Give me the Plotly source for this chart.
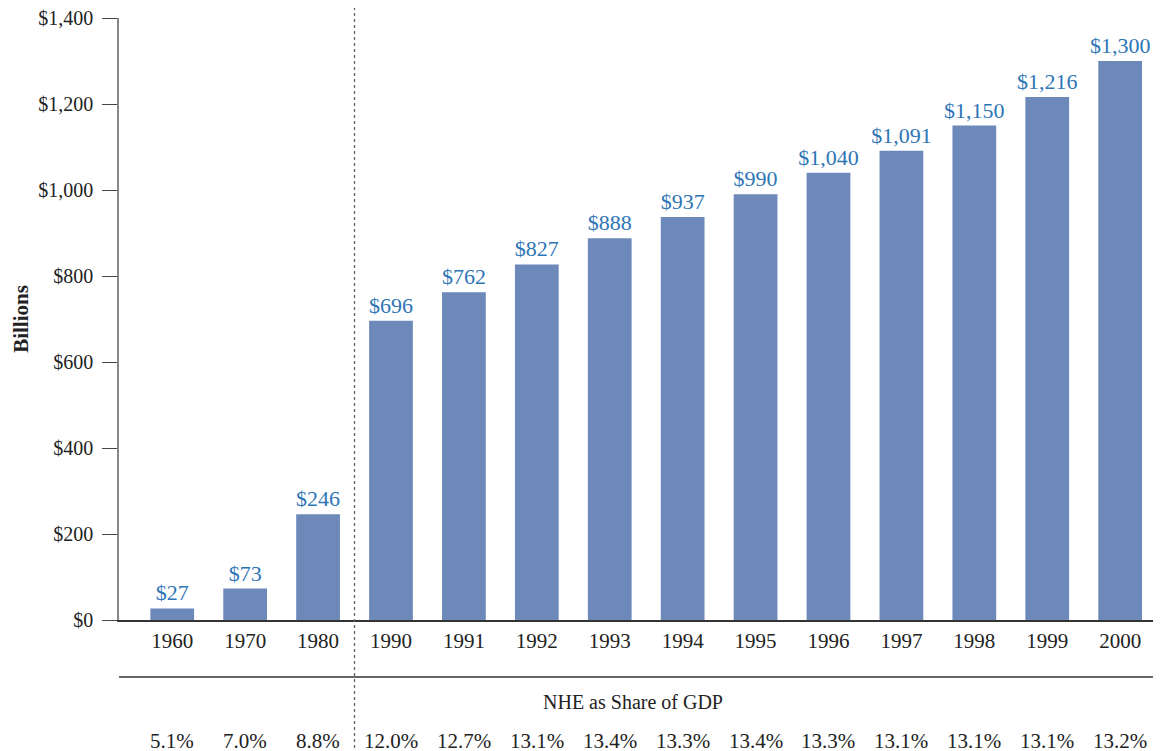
import plotly.graph_objects as go

years = ["1960", "1970", "1980", "1990", "1991", "1992", "1993", "1994",
         "1995", "1996", "1997", "1998", "1999", "2000"]
spending = [27, 73, 246, 696, 762, 827, 888, 937, 990, 1040, 1091, 1150, 1216, 1300]
gdp_share = ["5.1%", "7.0%", "8.8%", "12.0%", "12.7%", "13.1%", "13.4%", "13.3%",
             "13.4%", "13.3%", "13.1%", "13.1%", "13.1%", "13.2%"]
y_ticks = [0, 200, 400, 600, 800, 1000, 1200, 1400]

FONT = "Liberation Serif"
BAR = "#6d89ba"
LABEL = "#2e75b6"

# page has an 8px body margin; plot area on page: x 119..1161, y 18..620
H_PLOT = 602.0


def py(pix):
    # page pixel row -> paper y coordinate
    return (620 - pix) / H_PLOT


fig = go.Figure()

fig.add_trace(go.Bar(
    x=list(range(len(years))),
    y=spending,
    width=0.6,
    marker=dict(color=BAR, line=dict(width=0)),
    text=[f"${v:,}" for v in spending],
    textposition="outside",
    textangle=0,
    constraintext="none",
    textfont=dict(family=FONT, size=22, color=LABEL),
    cliponaxis=False,
    hoverinfo="skip",
))

# NHE share row
for i, s in enumerate(gdp_share):
    fig.add_annotation(x=i, y=py(741), xref="x", yref="paper", text=s,
                       xanchor="center", yanchor="middle", showarrow=False,
                       font=dict(family=FONT, size=21, color="#222"))

fig.add_annotation(x=(633 - 119) / 1042, y=py(702), xref="paper", yref="paper",
                   text="NHE as Share of GDP", xanchor="center", yanchor="middle",
                   showarrow=False, font=dict(family=FONT, size=20, color="#222"))

# separator under the year labels
fig.add_shape(type="line", xref="paper", yref="paper", x0=0, x1=1,
              y0=py(677), y1=py(677), line=dict(color="#333", width=1.5))

# dotted divider between decades and annual data
fig.add_shape(type="line", xref="x", yref="paper", x0=2.5, x1=2.5,
              y0=py(760), y1=py(8), line=dict(color="#666", width=1.3, dash="dot"))

fig.update_layout(
    width=1161, height=751,
    margin=dict(l=111, r=8, t=10, b=139, autoexpand=False),
    paper_bgcolor="white", plot_bgcolor="white",
    font=dict(family=FONT, color="#222"),
    showlegend=False,
    xaxis=dict(
        range=[-0.73, 13.56],
        tickvals=list(range(len(years))),
        ticktext=years,
        tickfont=dict(family=FONT, size=21, color="#222"),
        showline=True, linecolor="#333", linewidth=1.5,
        ticks="outside", ticklen=1, tickcolor="rgba(0,0,0,0)",
        showgrid=False, zeroline=False, automargin=False,
    ),
    yaxis=dict(
        range=[0, 1400],
        tickvals=y_ticks,
        ticktext=[f"${v:,}" for v in y_ticks],
        tickfont=dict(family=FONT, size=20, color="#222"),
        ticklabeloverflow="allow",
        ticklabelstandoff=5,
        showline=True, linecolor="#888", linewidth=1.5,
        ticks="outside", ticklen=15, tickcolor="#444", tickwidth=1,
        showgrid=False, zeroline=False, automargin=False,
        title=dict(text="<b>Billions</b>", font=dict(family=FONT, size=21, color="#222"),
                   standoff=4),
    ),
)

fig.write_html("out.html")
